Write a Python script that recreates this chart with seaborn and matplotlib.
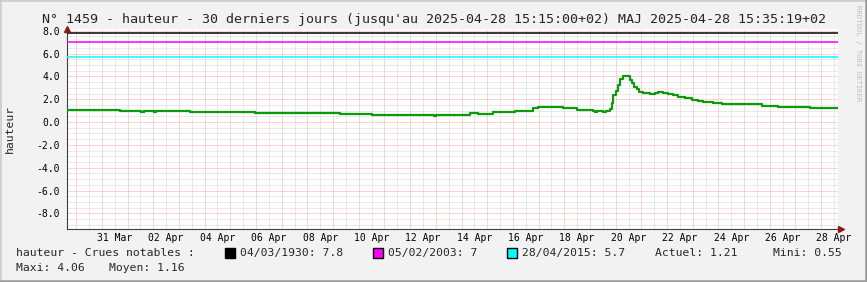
import numpy as np
import pandas as pd
import matplotlib
matplotlib.use("Agg")
import matplotlib.pyplot as plt
from matplotlib.patches import Rectangle
from matplotlib.lines import Line2D
import seaborn as sns

# ---------------- data ----------------
obs_time = [
    "2025-03-29 15:15", "2025-03-30 14:45", "2025-03-31 17:00",
    "2025-04-01 13:00", "2025-04-01 15:00", "2025-04-01 16:15",
    "2025-04-02 01:00", "2025-04-02 03:00", "2025-04-03 10:30",
    "2025-04-04 19:00", "2025-04-05 18:30", "2025-04-05 23:15",
    "2025-04-07 17:15", "2025-04-09 06:30",
    "2025-04-10 12:30", "2025-04-10 15:00", "2025-04-10 20:45", "2025-04-10 23:00",
    "2025-04-11 07:00", "2025-04-11 09:00", "2025-04-11 17:30", "2025-04-11 19:30",
    "2025-04-11 22:00", "2025-04-12 00:00", "2025-04-12 13:45", "2025-04-12 16:00",
    "2025-04-12 22:15", "2025-04-13 00:30", "2025-04-13 17:00", "2025-04-13 19:00",
    "2025-04-14 07:45", "2025-04-14 15:30", "2025-04-15 05:30", "2025-04-16 02:00",
    "2025-04-16 18:45", "2025-04-16 23:30", "2025-04-17 23:00", "2025-04-18 12:00",
    "2025-04-19 02:45", "2025-04-19 05:00", "2025-04-19 07:00", "2025-04-19 12:30",
    "2025-04-19 15:00", "2025-04-19 18:30", "2025-04-19 20:30", "2025-04-19 21:30",
    "2025-04-20 00:30", "2025-04-20 02:15", "2025-04-20 04:00", "2025-04-20 06:30",
    "2025-04-20 10:15", "2025-04-20 11:30", "2025-04-20 13:15", "2025-04-20 15:00",
    "2025-04-20 17:00", "2025-04-20 19:30", "2025-04-20 22:00", "2025-04-21 01:45",
    "2025-04-21 08:00", "2025-04-21 12:45", "2025-04-21 15:45", "2025-04-21 20:15",
    "2025-04-22 01:00", "2025-04-22 05:45", "2025-04-22 10:15", "2025-04-22 16:45",
    "2025-04-22 23:30", "2025-04-23 05:00", "2025-04-23 09:30", "2025-04-23 19:00",
    "2025-04-24 03:15", "2025-04-25 16:45", "2025-04-26 07:30", "2025-04-27 13:30",
    "2025-04-28 15:15",
]
hauteur = [
    1.08, 1.02, 0.97,
    0.90, 0.96, 0.93,
    0.88, 0.93, 0.88,
    0.84, 0.87, 0.82,
    0.76, 0.68,
    0.58, 0.66, 0.58, 0.66,
    0.58, 0.66, 0.58, 0.66,
    0.58, 0.66, 0.58, 0.66,
    0.56, 0.66, 0.58, 0.66,
    0.82, 0.72, 0.88, 1.00,
    1.20, 1.34, 1.22, 1.05,
    0.98, 0.90, 0.98, 0.90,
    0.98, 1.11, 1.70, 2.37,
    2.75, 3.25, 3.74, 4.03,
    4.06, 4.00, 3.68, 3.39,
    3.10, 2.87, 2.66, 2.51,
    2.45, 2.57, 2.66, 2.57,
    2.45, 2.34, 2.22, 2.08,
    1.93, 1.84, 1.73, 1.64,
    1.55, 1.43, 1.34, 1.25,
    1.21,
]

crue_dates = ["04/03/1930", "05/02/2003", "28/04/2015"]
crue_values = [7.8, 7.0, 5.7]
crue_text = ["7.8", "7", "5.7"]
crue_colors = ["#000000", "#FF00FF", "#00FFFF"]

stat_names = ["Actuel", "Mini", "Maxi", "Moyen"]
stat_values = ["1.21", "0.55", "4.06", "1.16"]

period_start = "2025-03-29 15:15"
period_end = "2025-04-28 15:15"
y_range = (-9.32, 8.15)
y_ticks = [-8.0, -6.0, -4.0, -2.0, 0.0, 2.0, 4.0, 6.0, 8.0]
x_labels = ["31 Mar", "02 Apr", "04 Apr", "06 Apr", "08 Apr", "10 Apr", "12 Apr",
            "14 Apr", "16 Apr", "18 Apr", "20 Apr", "22 Apr", "24 Apr", "26 Apr", "28 Apr"]

title = ("N° 1459 - hauteur - 30 derniers jours (jusqu'au 2025-04-28 15:15:00+02) "
         "MAJ 2025-04-28 15:35:19+02")
series_name = "hauteur"

# ---------------- figure ----------------
W, H = 867, 282
sns.set_theme(style="white")
plt.rcParams['font.family'] = ['DejaVu Sans Mono', 'DejaVu Sans']

fig = plt.figure(figsize=(W / 100, H / 100), dpi=100, facecolor='#F2F2F2')
x0, x1, ytop, ybot = 66.8, 837.5, 29.0, 228.5
ax = fig.add_axes([x0 / W, 1 - ybot / H, (x1 - x0) / W, (ybot - ytop) / H])
ax.set_facecolor('white')

df = pd.DataFrame({'time': pd.to_datetime(obs_time), series_name: hauteur})

t0, t1 = pd.Timestamp(period_start), pd.Timestamp(period_end)

# grid
midnights = pd.date_range(t0.normalize() + pd.Timedelta(days=1), t1.normalize(), freq='D')
noons = pd.date_range(t0.normalize() + pd.Timedelta(hours=36), t1.normalize() + pd.Timedelta(hours=12), freq='D')
label_pos = [pd.to_datetime(f"{lab} 2025 12:00", format="%d %b %Y %H:%M") for lab in x_labels]
label_map = dict(zip(label_pos, x_labels))
ax.set_xticks(midnights, labels=[''] * len(midnights))
ax.set_xticks(noons, labels=[label_map.get(n, '') for n in noons], minor=True)

ax.set_yticks(y_ticks, labels=[f"{v:.1f}" for v in y_ticks])
ax.set_yticks(np.arange(-9.0, 8.01, 0.5), minor=True)

ax.grid(which='major', color='#FFA8A8', linestyle=(0, (1, 1)), lw=0.72)
ax.grid(which='minor', color='#D4D4D4', linestyle=(0, (1, 1)), lw=0.72)
ax.set_axisbelow(True)

for v, c in zip(crue_values, crue_colors):
    ax.axhline(v, color=c, lw=1.1, zorder=3)

sns.lineplot(data=df, x='time', y=series_name, drawstyle='steps-post',
             color='#0A9A0A', lw=1.6, ax=ax, zorder=5)

ax.set_xlim(t0, t1)
ax.set_ylim(*y_range)
ax.set_xlabel('')
ax.set_ylabel('')

ax.tick_params(which='both', length=0, labelsize=7, colors='#000000')
ax.tick_params(axis='x', which='minor', pad=3.5)
ax.tick_params(axis='y', which='major', pad=4.8)

for s in ['top', 'right']:
    ax.spines[s].set_visible(False)
for s in ['left', 'bottom']:
    ax.spines[s].set_color('#404040')
    ax.spines[s].set_linewidth(0.8)

# arrows
arrow_c = '#8B1A1A'
ax.plot([0], [1.0], marker='^', markersize=4.2, color=arrow_c, transform=ax.transAxes,
        clip_on=False, zorder=10)
ax.plot([1.0039], [0], marker='>', markersize=4.2, color=arrow_c, transform=ax.transAxes,
        clip_on=False, zorder=10)

# title & axis label
fig.text(0.5, 1 - 19 / H, title, ha='center', va='center', fontsize=9.62)
fig.text(10 / W, 1 - 128.5 / H, series_name, rotation=90, ha='center', va='center', fontsize=8.2)

# legend
fs = 8.2
ly1, ly2 = 253, 268
fig.text(16 / W, 1 - ly1 / H, f"{series_name} - Crues notables :", ha='left', va='center', fontsize=fs)
sq_x = [225, 373, 507]
for xs, d, t, c in zip(sq_x, crue_dates, crue_text, crue_colors):
    fig.add_artist(Rectangle((xs / W, 1 - (ly1 + 5) / H), 10 / W, 10 / H,
                             transform=fig.transFigure, facecolor=c, edgecolor='black', lw=1.0))
    fig.text((xs + 15) / W, 1 - ly1 / H, f"{d}: {t}", ha='left', va='center', fontsize=fs)
stat_pos = [(655, ly1), (773, ly1), (16, ly2), (109, ly2)]
for (sx, sy), n, v in zip(stat_pos, stat_names, stat_values):
    fig.text(sx / W, 1 - sy / H, f"{n}: {v}", ha='left', va='center', fontsize=fs)

# watermark
fig.text(858 / W, 1 - 5 / H, "RRDTOOL / TOBI OETIKER", rotation=270, ha='center', va='top',
         fontsize=5.2, color='#BDBDBD')

# frame shading
fig.add_artist(Line2D([0, 1], [1 - 0.8 / H] * 2, transform=fig.transFigure, color='#CBCBCB', lw=1.2))
fig.add_artist(Line2D([0.8 / W] * 2, [0, 1], transform=fig.transFigure, color='#CBCBCB', lw=1.2))
fig.add_artist(Line2D([0, 1], [1.2 / H] * 2, transform=fig.transFigure, color='#999999', lw=1.8))
fig.add_artist(Line2D([1 - 1.2 / W] * 2, [0, 1], transform=fig.transFigure, color='#999999', lw=1.8))

fig.savefig('out.png', dpi=100, facecolor=fig.get_facecolor())
